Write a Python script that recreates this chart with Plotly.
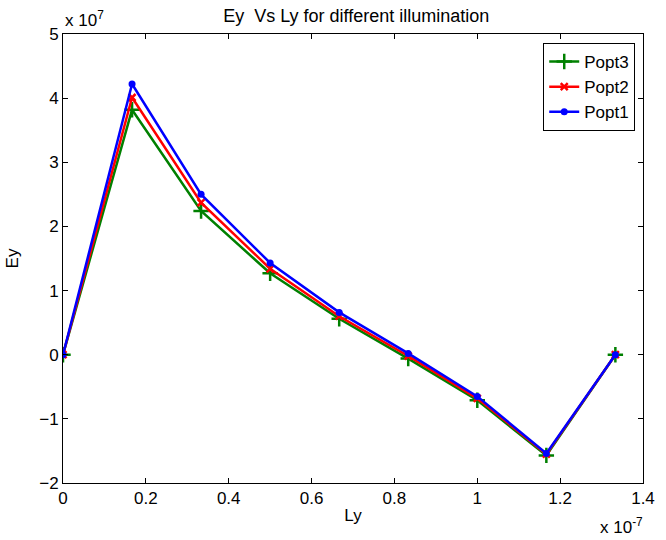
import plotly.graph_objects as go

# Ly in units of 1e-7, Ey in units of 1e7 (as shown on the axes)
ly = [0.0, 0.1667, 0.3333, 0.5, 0.6667, 0.8333, 1.0, 1.1667, 1.3333]
popt3 = [0.0, 3.82, 2.24, 1.27, 0.56, -0.06, -0.71, -1.57, 0.0]
popt2 = [0.0, 4.01, 2.37, 1.34, 0.60, -0.02, -0.68, -1.55, 0.0]
popt1 = [0.0, 4.22, 2.50, 1.43, 0.66, 0.02, -0.65, -1.54, 0.0]

x_ticks = [0, 0.2, 0.4, 0.6, 0.8, 1.0, 1.2, 1.4]
x_ticktext = ["0", "0.2", "0.4", "0.6", "0.8", "1", "1.2", "1.4"]
y_ticks = [-2, -1, 0, 1, 2, 3, 4, 5]

font = "Liberation Sans, Arial, Helvetica, sans-serif"

fig = go.Figure()
series = [
    ("Popt3", popt3, "#008000", "cross-thin", 11),
    ("Popt2", popt2, "#ff0000", "x-thin", 7),
    ("Popt1", popt1, "#0000ff", "circle", 7),
]
for name, ys, col, sym, size in series:
    fig.add_trace(go.Scatter(
        x=ly, y=ys, name=name, mode="lines+markers",
        line=dict(color=col, width=2.5),
        marker=dict(symbol=sym, size=size, color=col,
                    line=dict(color=col, width=2.5 if "thin" in sym else 0)),
    ))

axis_common = dict(showline=True, linecolor="black", linewidth=1, mirror="ticks",
                   ticks="inside", ticklen=5, tickcolor="black", showgrid=False,
                   zeroline=False, tickfont=dict(family=font, size=17, color="black"))

fig.update_layout(
    width=666, height=540,
    margin=dict(l=60, r=11, t=34, b=57),
    paper_bgcolor="white", plot_bgcolor="white",
    font=dict(family=font, color="black"),
    title=dict(text="Ey  Vs Ly for different illumination", x=0.535, xanchor="center",
               y=1 - 16 / 540, yanchor="middle", font=dict(size=18, family=font)),
    xaxis=dict(range=[0, 1.4], tickvals=x_ticks, ticktext=x_ticktext,
               title=dict(text="Ly", font=dict(size=17), standoff=1), **axis_common),
    yaxis=dict(range=[-2, 5], tickvals=y_ticks,
               title=dict(text="Ey", font=dict(size=17), standoff=16), **axis_common),
    legend=dict(x=0.9866, y=0.98, xanchor="right", yanchor="top",
                bordercolor="black", borderwidth=1, bgcolor="white",
                font=dict(size=17, family=font), traceorder="normal"),
    showlegend=True,
)

fig.add_annotation(text="x 10<sup>7</sup>", xref="paper", yref="paper",
                   x=0, y=1, xanchor="left", yanchor="bottom", yshift=2,
                   showarrow=False, font=dict(size=17, family=font))
fig.add_annotation(text="x 10<sup>-7</sup>", xref="paper", yref="paper",
                   x=1, y=0, xanchor="right", yanchor="top", yshift=-30, xshift=2,
                   showarrow=False, font=dict(size=17, family=font))

fig.write_html("out.html")
